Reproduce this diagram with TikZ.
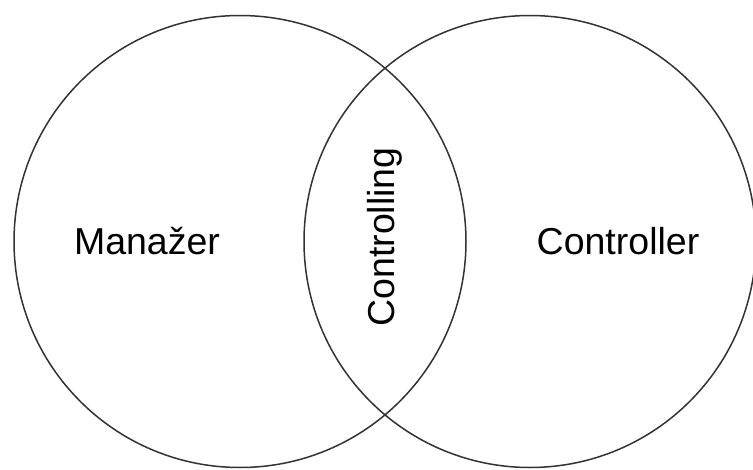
\documentclass[tikz,border=0pt]{standalone}
\usepackage{fontspec}
\setmainfont{Liberation Sans}
\begin{document}
\begin{tikzpicture}[x=1pt,y=-1pt,
  ring/.style={draw=black!80,line width=1.5pt},
  lbl/.style={font=\fontsize{37.5}{40}\selectfont,inner sep=0pt,anchor=center}]
\useasboundingbox (0,0) rectangle (753,469);
\draw[ring] (240,241.5) circle[radius=226];
\draw[ring] (530,241.5) circle[radius=226];
\node[lbl] (man) at (147,241) {Manažer};
\node[lbl] (con) at (618,241) {Controller};
\node[lbl,rotate=90] (ctl) at (385,237) {Controlling};
\end{tikzpicture}
\end{document}
